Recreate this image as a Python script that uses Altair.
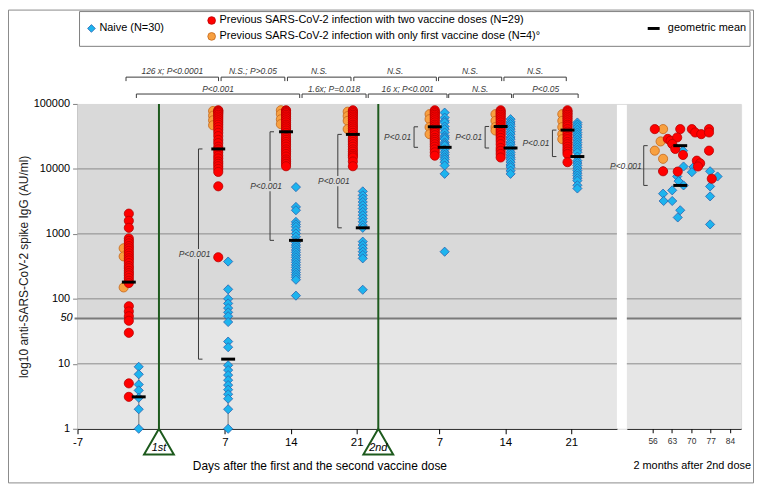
import altair as alt
import pandas as pd

# ---------------- values ----------------
groups = ["pre", "1st+7", "1st+14", "1st+21", "2nd+7", "2nd+14", "2nd+21"]
# plotting position of each sampling on the day axis (2nd-dose days shifted by 22.8)
group_day = [-3.2, 6.3, 13.5, 20.6, 29.3, 36.3, 43.4]

red_pre = [2050, 1590, 1240, 850, 780, 716, 650, 600, 550, 502, 460, 422, 390, 355, 320,
           297, 270, 249, 230, 209, 190, 175, 77, 64, 54, 46, 30, 5, 3.1]
orange_pre = [600, 450, 150]
blue_pre = [9.0, 6.9, 4.8, 3.9, 3.0, 2.0, 1.0]

red_d7 = [80000, 78000, 75000, 72000, 68000, 64000, 60000, 56000, 52000, 48000, 44000, 40000,
          36000, 32000, 28000, 25000, 22000, 20000, 18000, 16000, 14500, 13000, 12000, 11000,
          10000, 9000, 5400, 437]
orange_d7 = [78000, 66000, 56000, 47000]
blue_d7 = [375, 140, 100, 85, 72, 62, 54, 44, 22, 18, 9.5, 8.0, 6.7, 5.6, 4.7, 4.0, 3.4, 2.9, 2.0, 1.0]

red_d14 = [80000, 78000, 75000, 72000, 68000, 64000, 60000, 56000, 52000, 48000, 45000, 42000,
           39000, 36000, 33000, 30000, 28000, 26000, 24000, 22000, 20000, 18500, 17000, 15500,
           14000, 13000, 12000, 11000]
orange_d14 = [80000, 70000, 58000, 49000]
blue_d14 = [5250, 2600, 2310, 1530, 1400, 1284, 1143, 1017, 903, 800, 740, 674, 620, 565, 520,
            474, 435, 398, 365, 333, 305, 279, 255, 234, 215, 197, 112]

red_d21 = [80000, 76000, 72000, 68000, 64000, 60000, 56000, 52000, 48000, 45000, 42000, 39000,
           36000, 33000, 30000, 28000, 26000, 24000, 22000, 20000, 18500, 17000, 16000, 15000,
           13000, 11000]
orange_d21 = [76000, 65000, 55000, 41000]
blue_d21 = [4510, 3920, 3490, 3100, 2760, 2455, 2180, 1940, 1727, 1535, 1364, 1240, 760, 674,
            600, 532, 474, 420, 138]

red_b7 = [80000, 76000, 72000, 68000, 64000, 60000, 56000, 52000, 48000, 45000, 42000, 39000,
          36000, 33000, 30000, 28000, 26000, 24000, 22000, 20000, 18000, 16000]
orange_b7 = [69600, 58300, 44000, 34300]
blue_b7 = [73600, 61700, 55000, 51800, 45000, 40900, 36400, 32400, 30500, 28800, 25600, 24000,
           22800, 20000, 18000, 16500, 15100, 14000, 12700, 11300, 8400, 532]

red_b14 = [80000, 76000, 72000, 68000, 64000, 60000, 56000, 52000, 48000, 45000, 42000, 39000,
           36000, 33000, 30000, 27000, 24000, 21000, 19000, 17000, 15000]
orange_b14 = [69600, 55000, 44000, 39000]
blue_b14 = [58300, 53000, 49000, 45000, 41000, 37500, 34300, 31000, 28700, 26000, 24000, 22000,
            20000, 18000, 16500, 15100, 14000, 12700, 11500, 10600, 9400, 8400]

red_b21 = [80000, 76000, 72000, 68000, 64000, 60000, 56000, 52000, 48000, 45000, 41000, 37500,
           34300, 31000, 28700, 26000, 24000, 22000, 20100, 18500, 17000, 12700]
orange_b21 = [69600, 55000, 44000, 34300, 28700]
blue_b21 = [51800, 48000, 44000, 40000, 36400, 33500, 30800, 28000, 25600, 23500, 21500, 19700,
            18000, 15500, 13400, 12300, 11300, 10300, 9400, 8600, 7900, 7200, 6600, 5600, 5000]

# geometric means per sampling
gm_infected = [181, 20300, 37300, 34000, 44500, 45000, 39600]
gm_naive = [3.1, 11.8, 795, 1240, 21500, 21000, 15500]

# vertical lines joining the lowest naive values
naive_line_top = [9.0, 11.0]

# within-time comparisons (infected vs naive)
inner_p_day = [4.2, 11.8, 19.0, 27.1, 34.65, 41.8]
inner_p_text = ["P<0.001", "P<0.001", "P<0.001", "P<0.01", "P<0.01", "P<0.01"]

# comparisons between consecutive samplings (top brackets)
top1_from = [-3.5, 6.6, 13.65, 20.7, 29.7, 36.65]
top1_to = [6.33, 13.37, 20.4, 29.47, 36.41, 43.27]
top1_text = ["126 x;  P<0.0001", "N.S.; P>0.05", "N.S.", "N.S.", "N.S.", "N.S."]
top2_from = [-2.4, 15.2, 22.23, 30.78, 37.64]
top2_to = [14.95, 22.0, 30.6, 37.46, 44.53]
top2_text = ["P<0.001", "1.6x;  P=0.018", "16 x;  P<0.001", "N.S.", "P<0.05"]

dose_day = [0, 23.3]
dose_text = ["1st", "2nd"]

# 2 months after the 2nd dose
m2_red_day = [56.8, 66.0, 70.2, 71.4, 73.6, 76.4, 76.4, 61.5, 62.5, 64.9, 63.1, 64.2, 67.0, 76.4,
              72.0, 73.2, 72.4, 59.8, 65.1, 77.4]
m2_red_val = [41000, 41000, 41000, 36400, 34300, 41000, 36400, 29000, 27200, 30500, 24200, 20300,
              16400, 19100, 13400, 12200, 10900, 9200, 9100, 7060]
m2_orange_day = [59.8, 58.9, 56.8, 59.8]
m2_orange_val = [41000, 26500, 19100, 14300]
m2_blue_day = [67.0, 67.2, 70.8, 70.2, 76.8, 79.5, 59.8, 64.9, 65.4, 67.2, 76.8, 63.1, 59.8, 76.8,
               60.0, 63.1, 66.0, 65.1, 76.8]
m2_blue_val = [19100, 10900, 10700, 8900, 9200, 7650, 9300, 7650, 6490, 5570, 5380, 4680, 4160,
               3780, 3210, 3210, 2310, 1790, 1400]
m2_gm_day = [66.0, 66.0]
m2_gm_val = [22800, 5570]
m2_p_day = [52.8]
m2_p_text = ["P<0.001"]

x_tick_pos = [-8.64, 7, 14, 21, 29.8, 36.8, 43.8]
x_tick_lab = ["-7", "7", "14", "21", "7", "14", "21"]
m2_ticks = [56, 63, 70, 77, 84]
y_ticks = [1, 10, 100, 1000, 10000, 100000]
grid_vals = [10, 100, 1000, 10000]
split_val = [50]

legend_naive = "Naive (N=30)"
legend_two = "Previous SARS-CoV-2 infection with two vaccine doses (N=29)"
legend_one = "Previous SARS-CoV-2 infection with only first vaccine dose (N=4)°"
legend_gm = "geometric mean"

# ---------------- styling ----------------
FONT = "Liberation Sans"
W_MAIN, GAP, W_R = 543, 10, 115
W = W_MAIN + GAP + W_R
H = 327
BG_HI, BG_LO = "#d9d9d9", "#e6e6e6"
GRID = "#8a8a8a"
BR = "#3a3a3a"
RED, RED_E = "#ff0000", "#b80000"
ORANGE, ORANGE_E = "#f8a040", "#c4681c"
BLUE, BLUE_E = "#1db4ee", "#2862b0"
GREEN = "#1d5a1d"
ORANGE_OFF, BLUE_OFF = -0.55, 1.05
PT = 85
GM_SHAPE = "M-1,0L1,0"
TRI = "M0,-0.867L1,0.867L-1,0.867Z"
MASK = "M-1,-0.3L1,-0.3L1,0.3L-1,0.3Z"

XM = alt.Scale(domain=[-8.65, 48.65], range=[0, W_MAIN], nice=False, zero=False)
XR = alt.Scale(domain=[46.7, 88.0], range=[W_MAIN + GAP, W], nice=False, zero=False)
YS = alt.Scale(type="log", domain=[1, 100000], nice=False)

Y_AXIS = alt.Axis(values=y_ticks, format="d", grid=False, tickSize=5, tickColor="#808080",
                  domainColor="#808080", labelFont=FONT, labelFontSize=11, labelColor="black",
                  labelPadding=3, title="log10 anti-SARS-CoV-2 spike IgG (AU/ml)", titleFont=FONT,
                  titleFontSize=12, titleFontWeight="normal", titleColor="#222222", titlePadding=3)


def xm(f="t", axis=None):
    return alt.X(f"{f}:Q", scale=XM, axis=axis)


def xr(f="d", axis=None):
    return alt.X(f"{f}:Q", scale=XR, axis=axis)


def yv(f="v"):
    # every layer carries the same axis definition so the shared y axis is kept
    return alt.Y(f"{f}:Q", scale=YS, axis=Y_AXIS)


one = pd.DataFrame({"k": [0]})

# ---------------- tables ----------------
reds = [red_pre, red_d7, red_d14, red_d21, red_b7, red_b14, red_b21]
oranges = [orange_pre, orange_d7, orange_d14, orange_d21, orange_b7, orange_b14, orange_b21]
blues = [blue_pre, blue_d7, blue_d14, blue_d21, blue_b7, blue_b14, blue_b21]

rows = []
for day, r, o, b in zip(group_day, reds, oranges, blues):
    rows += [{"t": day, "v": v, "s": "red"} for v in r]
    rows += [{"t": day + ORANGE_OFF, "v": v, "s": "orange"} for v in o]
    rows += [{"t": day + BLUE_OFF, "v": v, "s": "blue"} for v in b]
pts = pd.DataFrame(rows)

gm = pd.DataFrame({
    "t": group_day + [d + BLUE_OFF for d in group_day],
    "v": gm_infected + gm_naive,
})
nline = pd.DataFrame({"t": [d + BLUE_OFF for d in group_day[:2]], "lo": [1, 1], "hi": naive_line_top})
inner = pd.DataFrame({"t": inner_p_day, "top": gm_infected[1:], "bot": gm_naive[1:],
                      "txt": inner_p_text, "i": list(range(6))})
top1 = pd.DataFrame({"a": top1_from, "b": top1_to, "txt": top1_text})
top2 = pd.DataFrame({"a": top2_from, "b": top2_to, "txt": top2_text})
doses = pd.DataFrame({"t": dose_day, "txt": dose_text})
m2r = pd.DataFrame({"d": m2_red_day, "v": m2_red_val})
m2o = pd.DataFrame({"d": m2_orange_day, "v": m2_orange_val})
m2b = pd.DataFrame({"d": m2_blue_day, "v": m2_blue_val})
m2g = pd.DataFrame({"d": m2_gm_day, "v": m2_gm_val})
m2p = pd.DataFrame({"d": m2_p_day, "top": [m2_gm_val[0]], "bot": [m2_gm_val[1]], "txt": m2_p_text})
grid = pd.DataFrame({"v": grid_vals})
split = pd.DataFrame({"v": split_val})
band_hi = pd.DataFrame({"lo": [50], "hi": [100000]})
band_lo = pd.DataFrame({"lo": [1], "hi": [50]})

lab_expr = "''"
for p, l in reversed(list(zip(x_tick_pos, x_tick_lab))):
    lab_expr = f"abs(datum.value - ({p})) < 0.05 ? '{l}' : {lab_expr}"

x_axis = alt.Axis(values=x_tick_pos, labelExpr=lab_expr, orient="bottom", grid=False, tickSize=5,
                  tickColor="black", domainColor="black", labelFont=FONT, labelFontSize=11.5,
                  labelColor="black", labelPadding=3, labelFlush=False, labelOverlap=False, title=None)
r_axis = alt.Axis(values=m2_ticks, format="d", orient="bottom", grid=False, tickSize=4,
                  tickColor="black", domainColor="black", labelFont=FONT, labelFontSize=8.5,
                  labelColor="#333333", labelPadding=4, labelFlush=False, labelOverlap=False, title=None)

layers = []
# backgrounds
for x0, x1 in [(0, W_MAIN), (W_MAIN + GAP, W)]:
    layers.append(alt.Chart(band_hi).mark_rect(color=BG_HI).encode(
        x=alt.value(x0), x2=alt.value(x1), y=yv("lo"), y2=alt.Y2("hi")))
    layers.append(alt.Chart(band_lo).mark_rect(color=BG_LO).encode(
        x=alt.value(x0), x2=alt.value(x1), y=yv("lo"), y2=alt.Y2("hi")))
    layers.append(alt.Chart(grid).mark_rule(color=GRID, strokeWidth=1).encode(
        x=alt.value(x0), x2=alt.value(x1), y=yv("v")))
    layers.append(alt.Chart(split).mark_rule(color="#7a7a7a", strokeWidth=2).encode(
        x=alt.value(x0 - 3 if x0 == 0 else x0), x2=alt.value(x1), y=yv()))

layers.append(alt.Chart(split).mark_text(font=FONT, fontSize=11, fontStyle="italic", align="right",
                                         baseline="middle", color="black").encode(
    x=alt.value(-5), y=yv(), text=alt.Text("v:Q", format="d")))

# dose lines + triangles
layers.append(alt.Chart(doses).mark_rule(color=GREEN, strokeWidth=2).encode(
    x=xm(axis=x_axis), y=alt.value(0), y2=alt.value(H)))
layers.append(alt.Chart(doses).mark_point(shape=TRI, size=900, filled=True, color="white",
                                          stroke=GREEN, strokeWidth=2, opacity=1).encode(
    x=xm(), y=alt.value(H + 13)))
layers.append(alt.Chart(doses).mark_text(font=FONT, fontSize=11, fontStyle="italic",
                                         baseline="middle", color="black").encode(
    x=xm(), y=alt.value(H + 19), text="txt:N"))

# gray joining lines of naive values
layers.append(alt.Chart(nline).mark_rule(color="#9a9a9a", strokeWidth=1.5).encode(
    x=xm(), y=yv("lo"), y2=alt.Y2("hi")))

# inner brackets
for df, xf, f in [(inner, xm, "t"), (m2p, xr, "d")]:
    layers.append(alt.Chart(df).mark_rule(color=BR, strokeWidth=1).encode(
        x=xf(f), y=yv("top"), y2=alt.Y2("bot")))
    layers.append(alt.Chart(df).transform_fold(["top", "bot"], as_=["k", "e"]).mark_rule(
        color=BR, strokeWidth=1, x2Offset=4).encode(x=xf(f), x2=alt.X2(f), y=yv("e")))

inner_mid = alt.Chart(inner).transform_calculate(mid="sqrt(datum.top * datum.bot)")
layers.append(inner_mid.transform_filter("datum.i < 3").mark_point(
    shape=MASK, size=1156, filled=True, color=BG_HI, opacity=1, strokeWidth=0, xOffset=-4).encode(
    x=xm(), y=yv("mid")))
layers.append(inner_mid.transform_filter("datum.i < 3").mark_text(
    font=FONT, fontSize=8.5, fontStyle="italic", color=BR, dx=-4, baseline="middle").encode(
    x=xm(), y=yv("mid"), text="txt:N"))
layers.append(inner_mid.transform_filter("datum.i >= 3").mark_text(
    font=FONT, fontSize=8.5, fontStyle="italic", color=BR, dx=-3, align="right", baseline="middle").encode(
    x=xm(), y=yv("mid"), text="txt:N"))
layers.append(alt.Chart(m2p).transform_calculate(mid="sqrt(datum.top * datum.bot)").mark_text(
    font=FONT, fontSize=8.5, fontStyle="italic", color=BR, dx=-2, align="right", baseline="middle").encode(
    x=xr(), y=yv("mid"), text="txt:N"))

# top brackets
for df, yl, yt in [(top1, -27, -33), (top2, -10, -15)]:
    layers.append(alt.Chart(df).mark_rule(color=BR, strokeWidth=1).encode(
        x=xm("a"), x2=alt.X2("b"), y=alt.value(yl)))
    layers.append(alt.Chart(df).transform_fold(["a", "b"], as_=["k", "e"]).mark_rule(
        color=BR, strokeWidth=1).encode(x=xm("e"), y=alt.value(yl), y2=alt.value(yl + 4)))
    layers.append(alt.Chart(df).transform_calculate(mid="(datum.a + datum.b) / 2").mark_text(
        font=FONT, fontSize=8.5, fontStyle="italic", color=BR, baseline="middle").encode(
        x=xm("mid"), y=alt.value(yt), text="txt:N"))


def diamonds(df, xf):
    return alt.Chart(df).mark_point(shape="diamond", filled=True, size=PT, color=BLUE, stroke=BLUE_E,
                                    strokeWidth=0.8, opacity=1).encode(x=xf, y=yv())


def circles(df, xf, c, e):
    return alt.Chart(df).mark_circle(size=PT, color=c, stroke=e, strokeWidth=0.8, opacity=1).encode(
        x=xf, y=yv())


# points: main panel
layers.append(diamonds(pts[pts.s == "blue"], xm()))
layers.append(circles(pts[pts.s == "orange"], xm(), ORANGE, ORANGE_E))
layers.append(circles(pts[pts.s == "red"], xm(), RED, RED_E))
layers.append(alt.Chart(gm).mark_point(shape=GM_SHAPE, size=196, filled=False, color="black",
                                       strokeWidth=3, opacity=1).encode(x=xm(), y=yv()))

# points: 2 months panel
layers.append(diamonds(m2b, xr("d", axis=r_axis)))
layers.append(circles(m2o, xr(), ORANGE, ORANGE_E))
layers.append(circles(m2r, xr(), RED, RED_E))
layers.append(alt.Chart(m2g).mark_point(shape=GM_SHAPE, size=196, filled=False, color="black",
                                        strokeWidth=3, opacity=1).encode(x=xr(), y=yv()))

# axis titles
layers.append(alt.Chart(one).mark_text(font=FONT, fontSize=12, color="black", baseline="middle",
                                       text="Days after the first and the second vaccine dose").encode(
    x=alt.value(244), y=alt.value(H + 37)))
layers.append(alt.Chart(one).mark_text(font=FONT, fontSize=11, color="black", baseline="middle",
                                       align="right", text="2 months after 2nd dose").encode(
    x=alt.value(W + 10), y=alt.value(H + 37)))

# legend
layers.append(alt.Chart(one).mark_rect(color="white", stroke="#7f7f7f", strokeWidth=1).encode(
    x=alt.value(2), x2=alt.value(677), y=alt.value(-93), y2=alt.value(-58)))
layers.append(alt.Chart(one).mark_point(shape="diamond", filled=True, size=60, color=BLUE,
                                        stroke=BLUE_E, strokeWidth=0.8, opacity=1).encode(
    x=alt.value(14), y=alt.value(-76)))
layers.append(alt.Chart(one).mark_circle(size=60, color=RED, stroke=RED_E, strokeWidth=0.8,
                                         opacity=1).encode(x=alt.value(135), y=alt.value(-84)))
layers.append(alt.Chart(one).mark_circle(size=60, color=ORANGE, stroke=ORANGE_E, strokeWidth=0.8,
                                         opacity=1).encode(x=alt.value(135), y=alt.value(-68)))
layers.append(alt.Chart(one).mark_point(shape=GM_SHAPE, size=144, filled=False, color="black",
                                        strokeWidth=3, opacity=1).encode(
    x=alt.value(580), y=alt.value(-76)))
for txt, xx, yy, al in [(legend_naive, 22, -76, "left"), (legend_two, 143, -84, "left"),
                        (legend_one, 143, -68, "left"), (legend_gm, 673, -76, "right")]:
    layers.append(alt.Chart(one).mark_text(font=FONT, fontSize=11, color="black", align=al,
                                           baseline="middle", text=txt).encode(
        x=alt.value(xx), y=alt.value(yy)))

# outer frame
layers.append(alt.Chart(one).mark_rect(color="white", fillOpacity=0, stroke="#8a8a8a",
                                       strokeWidth=1).encode(
    x=alt.value(-69.5), x2=alt.value(W + 12.5), y=alt.value(-94.5), y2=alt.value(H + 54.5)))

chart = alt.layer(*layers).resolve_scale(x="independent").properties(
    width=W, height=H,
    autosize=alt.AutoSizeParams(type="none"),
    padding={"left": 70, "top": 95, "right": 13, "bottom": 55},
).configure_view(stroke="transparent").configure(font=FONT)

chart.save("out.html", embed_options={"renderer": "svg", "actions": False})
